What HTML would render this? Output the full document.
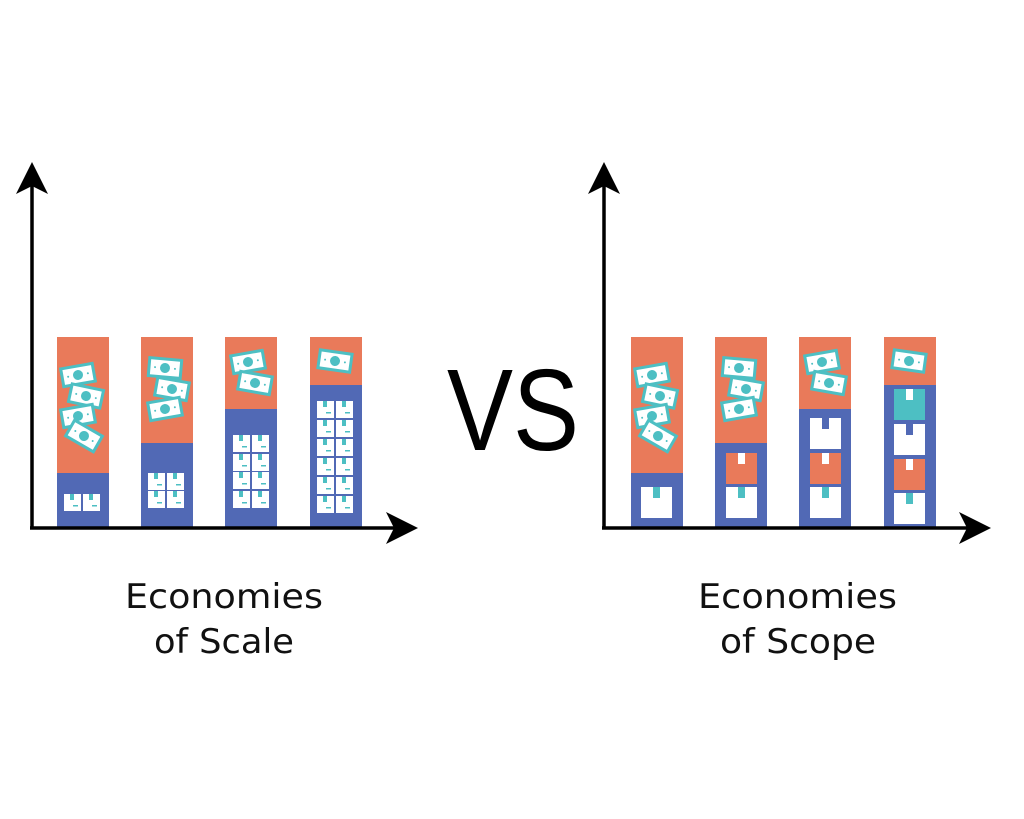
<!DOCTYPE html>
<html><head><meta charset="utf-8"><style>html,body{margin:0;padding:0;background:#fff}svg{display:block}</style></head><body>
<svg width="1024" height="819" viewBox="0 0 1024 819" xmlns="http://www.w3.org/2000/svg">
<defs>
<g id="bill"><rect x="-16" y="-9" width="32" height="18" fill="#fff" stroke="#4dbfc3" stroke-width="3"/><circle cx="0" cy="0" r="5" fill="#4dbfc3"/><circle cx="-10" cy="0" r="1" fill="#4dbfc3"/><circle cx="10" cy="0" r="1" fill="#4dbfc3"/></g>
<g id="sb"><rect width="17" height="17" fill="#fff"/><rect x="6" y="0" width="4" height="6" fill="#4dbfc3"/><rect x="9" y="11" width="5" height="1.5" fill="#4dbfc3"/></g>
<g id="bw"><rect width="31" height="31" fill="#fff"/><rect x="12" y="0" width="7" height="11" fill="#4dbfc3"/></g>
<g id="bwb"><rect width="31" height="31" fill="#fff"/><rect x="12" y="0" width="7" height="11" fill="#5169b5"/></g>
<g id="bo"><rect width="31" height="31" fill="#e97a5a"/><rect x="12" y="0" width="7" height="11" fill="#fff"/></g>
<g id="bt"><rect width="31" height="31" fill="#4dbfc3"/><rect x="12" y="0" width="7" height="11" fill="#fff"/></g>
<g id="bills">
<use href="#bill" transform="translate(78,375) rotate(-10)"/>
<use href="#bill" transform="translate(86,396) rotate(12)"/>
<use href="#bill" transform="translate(78,416) rotate(-10)"/>
<use href="#bill" transform="translate(84,436) rotate(30)"/>
<use href="#bill" transform="translate(165,368) rotate(5)"/>
<use href="#bill" transform="translate(172,389) rotate(10)"/>
<use href="#bill" transform="translate(165,409) rotate(-10)"/>
<use href="#bill" transform="translate(248,362) rotate(-10)"/>
<use href="#bill" transform="translate(255,383) rotate(10)"/>
<use href="#bill" transform="translate(335,361) rotate(8)"/>
</g>
<g id="bars">
<rect x="57" y="337" width="52" height="190" fill="#e97a5a"/><rect x="57" y="473" width="52" height="54" fill="#5169b5"/>
<rect x="141" y="337" width="52" height="190" fill="#e97a5a"/><rect x="141" y="443" width="52" height="84" fill="#5169b5"/>
<rect x="225" y="337" width="52" height="190" fill="#e97a5a"/><rect x="225" y="409" width="52" height="118" fill="#5169b5"/>
<rect x="310" y="337" width="52" height="190" fill="#e97a5a"/><rect x="310" y="385" width="52" height="142" fill="#5169b5"/>
</g>
</defs>
<use href="#bars"/>
<use href="#bills"/>
<use href="#sb" x="64" y="494"/><use href="#sb" x="83" y="494"/>
<use href="#sb" x="148" y="473"/><use href="#sb" x="167" y="473"/><use href="#sb" x="148" y="491"/><use href="#sb" x="167" y="491"/>
<use href="#sb" x="233" y="435"/><use href="#sb" x="252" y="435"/><use href="#sb" x="233" y="454"/><use href="#sb" x="252" y="454"/>
<use href="#sb" x="233" y="472"/><use href="#sb" x="252" y="472"/><use href="#sb" x="233" y="491"/><use href="#sb" x="252" y="491"/>
<use href="#sb" x="317" y="401"/><use href="#sb" x="336" y="401"/><use href="#sb" x="317" y="420"/><use href="#sb" x="336" y="420"/>
<use href="#sb" x="317" y="439"/><use href="#sb" x="336" y="439"/><use href="#sb" x="317" y="458"/><use href="#sb" x="336" y="458"/>
<use href="#sb" x="317" y="477"/><use href="#sb" x="336" y="477"/><use href="#sb" x="317" y="496"/><use href="#sb" x="336" y="496"/>
<line x1="32" y1="528" x2="32" y2="185" stroke="#000" stroke-width="3.5"/>
<polygon points="32,162 16,194 32,186 48,194" fill="#000"/>
<line x1="30" y1="528" x2="395" y2="528" stroke="#000" stroke-width="3.5"/>
<polygon points="418,528 386,512 394,528 386,544" fill="#000"/>
<g transform="translate(574,0)"><use href="#bars"/><use href="#bills"/></g>
<use href="#bw" x="641" y="487"/>
<use href="#bo" x="726" y="453"/><use href="#bw" x="726" y="487"/>
<use href="#bwb" x="810" y="418"/><use href="#bo" x="810" y="453"/><use href="#bw" x="810" y="487"/>
<use href="#bt" x="894" y="389"/><use href="#bwb" x="894" y="424"/><use href="#bo" x="894" y="459"/><use href="#bw" x="894" y="493"/>
<line x1="604" y1="528" x2="604" y2="185" stroke="#000" stroke-width="3.5"/>
<polygon points="604,162 588,194 604,186 620,194" fill="#000"/>
<line x1="602" y1="528" x2="968" y2="528" stroke="#000" stroke-width="3.5"/>
<polygon points="991,528 959,512 967,528 959,544" fill="#000"/>
<text x="447" y="450" font-family="Liberation Sans, sans-serif" font-size="116" textLength="132" lengthAdjust="spacingAndGlyphs" fill="#000">VS</text>
<g font-family="DejaVu Sans, sans-serif" font-size="34" fill="#111">
<text x="125" y="608" textLength="198" lengthAdjust="spacingAndGlyphs">Economies</text>
<text x="154" y="653" textLength="140" lengthAdjust="spacingAndGlyphs">of Scale</text>
<text x="698" y="608" textLength="199" lengthAdjust="spacingAndGlyphs">Economies</text>
<text x="720" y="653" textLength="156" lengthAdjust="spacingAndGlyphs">of Scope</text>
</g>
</svg>
</body></html>
